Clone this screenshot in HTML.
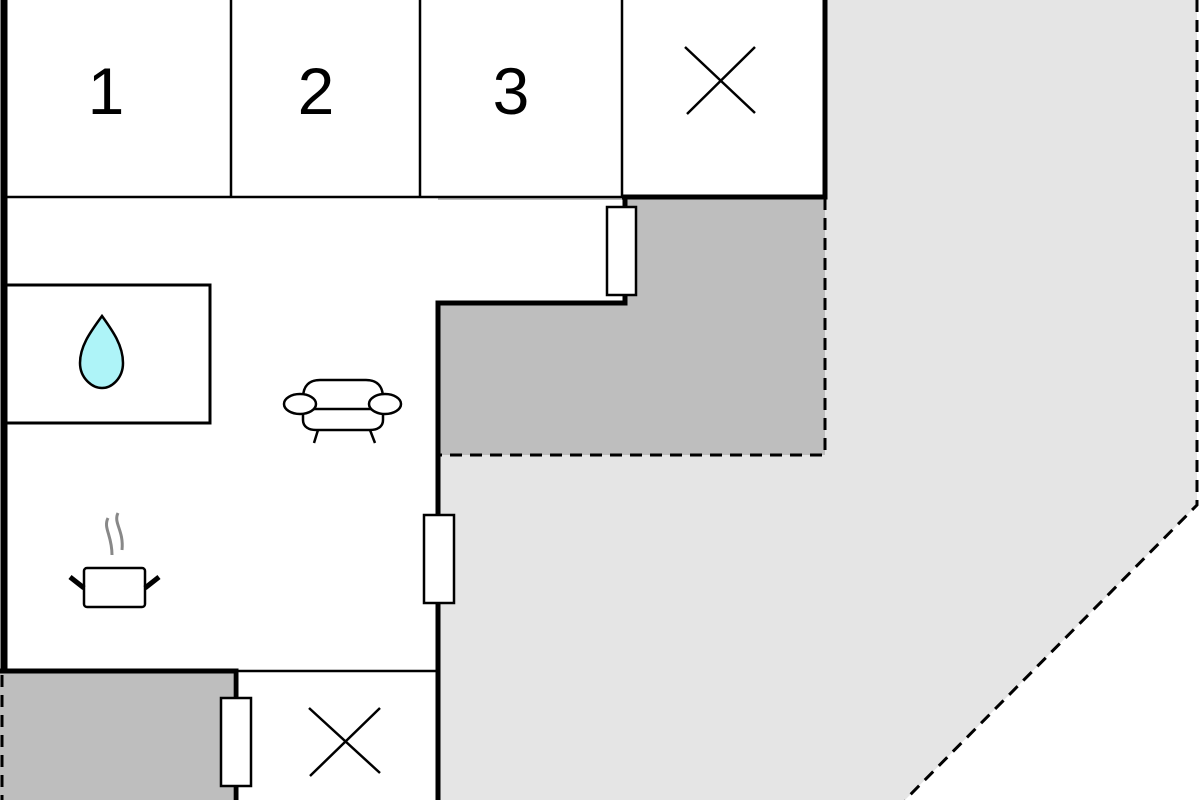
<!DOCTYPE html>
<html><head><style>body{margin:0;background:#fff}svg{display:block}</style></head><body>
<svg width="1200" height="800" viewBox="0 0 1200 800" xmlns="http://www.w3.org/2000/svg">
<polygon points="825,0 1197,0 1197,505 905,800 438,800 438,300 825,300" fill="#e5e5e5"/>
<rect x="438" y="198" width="387" height="257" fill="#bebebe"/>
<rect x="625" y="198" width="200" height="0" fill="#bebebe"/>
<polygon points="0,200 625,200 625,303 438,303 438,800 0,800" fill="#fff"/>
<rect x="0" y="673" width="233" height="127" fill="#bebebe"/>
<rect x="237" y="673" width="200" height="127" fill="#fff"/>
<g fill="none" stroke="#000" stroke-width="3" stroke-dasharray="12,8">
<path d="M1197,0 V505 L905,800"/>
<path d="M825,198 V455 H440"/>
<path d="M2,675 V800"/>
</g>
<g stroke="#000" fill="none">
<path d="M4,0 V672" stroke-width="7"/>
<path d="M231,0 V196 M420,0 V196 M622,0 V196" stroke-width="2.5"/>
<path d="M4,197 H622" stroke-width="2.5"/>
<path d="M825,0 V197 H622" stroke-width="5"/>
<path d="M625,196 V303 H438 V800" stroke-width="5"/>
<path d="M0,671 H236 V800" stroke-width="5"/>
<path d="M236,671 H438" stroke-width="2.5"/>
<rect x="6" y="285" width="204" height="138" stroke-width="3"/>
<path d="M685,47 L755,113 M755,47 L687,114" stroke-width="2.5"/>
<path d="M309,708 L380,773 M380,708 L310,776" stroke-width="2.5"/>
</g>
<g fill="#fff" stroke="#000" stroke-width="2.5">
<rect x="607" y="207" width="29" height="88"/>
<rect x="424" y="515" width="30" height="88"/>
<rect x="221" y="698" width="30" height="88"/>
</g>
<path d="M102,316 C92,330 80,345 80,363 C80,378 92,388 102,388 C112,388 123,378 123,363 C123,345 112,330 102,316 Z" fill="#aef4f8" stroke="#000" stroke-width="2.5"/>
<g fill="#fff" stroke="#000" stroke-width="2.5">
<path d="M303,398 C303,385 310,380 320,380 H366 C376,380 383,385 383,398 V420 C383,427 377,430 370,430 H316 C309,430 303,427 303,420 Z"/>
<path d="M308,409 H378"/>
<ellipse cx="300" cy="404" rx="16" ry="10"/>
<ellipse cx="385" cy="404" rx="16" ry="10"/>
<path d="M318,430 L314,443 M370,430 L375,443" fill="none"/>
<rect x="84" y="568" width="61" height="39" rx="3"/>
</g>
<path d="M70,577 L84,588 M159,577 L145,588" stroke="#000" stroke-width="5"/>
<path d="M108,518 C103,528 112,535 112,555 M118,513 C113,523 124,530 122,550" stroke="#888" stroke-width="3" fill="none"/>
<g font-family="Liberation Sans, sans-serif" font-size="66" text-anchor="middle" fill="#000">
<text x="106" y="114">1</text>
<text x="316" y="114">2</text>
<text x="511" y="114">3</text>
</g>
</svg>
</body></html>
